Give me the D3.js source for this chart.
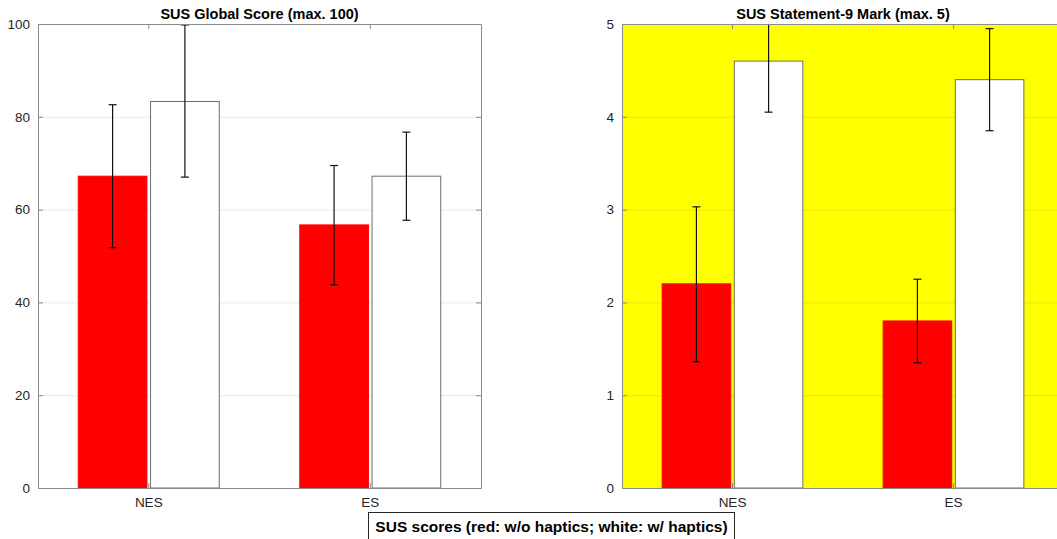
<!DOCTYPE html>
<html>
<head>
<meta charset="utf-8">
<script src="https://cdn.jsdelivr.net/npm/d3@7"></script>
<style>
  body { margin: 0; background: #fff; }
  svg { font-family: "Liberation Sans", Arial, sans-serif; display: block; }
</style>
</head>
<body>
<div id="grafico"></div>
<script>
// categorias y series
const categorias = ["NES", "ES"];
const series = ["sin", "con"]; // red: w/o haptics, white: w/ haptics

// SUS Global Score
const globalSin = [67.2, 56.7];
const globalSinLo = [51.8, 43.8];
const globalSinHi = [82.6, 69.5];
const globalCon = [83.3, 67.2];
const globalConLo = [67.0, 57.7];
const globalConHi = [99.8, 76.7];
const globalTicks = [0, 20, 40, 60, 80, 100];

// SUS Statement-9 Mark
const s9Sin = [2.2, 1.8];
const s9SinLo = [1.36, 1.35];
const s9SinHi = [3.03, 2.25];
const s9Con = [4.6, 4.4];
const s9ConLo = [4.05, 3.85];
const s9ConHi = [5.15, 4.95];
const s9Ticks = [0, 1, 2, 3, 4, 5];

const width = 1057;
const height = 539;

const svg = d3
  .select("#grafico")
  .append("svg")
  .attr("width", width)
  .attr("height", height);

const color = d3.scaleOrdinal().domain(series).range(["#ff0000", "#ffffff"]);
const stroke = d3.scaleOrdinal().domain(series).range(["#ff0000", "#6e6e6e"]);

function panel(id, x0px, x1px, titulo, ymax, ticks, sin, sinLo, sinHi, con, conLo, conHi, fondo) {
  const top = 24, bottom = 488;

  const data = categorias.map((c, i) => ({
    cat: c,
    vals: [
      { s: "sin", v: sin[i], lo: sinLo[i], hi: sinHi[i] },
      { s: "con", v: con[i], lo: conLo[i], hi: conHi[i] },
    ],
  }));

  const x0 = d3.scaleBand().domain(categorias).range([x0px, x1px]).padding(0);
  const bw = x0.bandwidth();
  const x1 = d3
    .scaleBand()
    .domain(series)
    .range([bw * 0.1817, bw * 0.8183])
    .paddingInner(0.05);
  const y = d3.scaleLinear().domain([0, ymax]).range([bottom, top]);

  const g = svg.append("g");

  g.append("clipPath")
    .attr("id", id)
    .append("rect")
    .attr("x", x0px)
    .attr("y", top)
    .attr("width", x1px - x0px)
    .attr("height", bottom - top);

  // fondo
  g.append("rect")
    .attr("x", x0px)
    .attr("y", top)
    .attr("width", x1px - x0px)
    .attr("height", bottom - top)
    .attr("fill", fondo);

  // grid
  g.append("g")
    .selectAll("line")
    .data(ticks)
    .join("line")
    .attr("x1", x0px)
    .attr("x2", x1px)
    .attr("y1", (d) => y(d) + 0.5)
    .attr("y2", (d) => y(d) + 0.5)
    .attr("stroke", "#262626")
    .attr("stroke-opacity", 0.1);

  // barras
  const grupos = g
    .append("g")
    .attr("clip-path", `url(#${id})`)
    .selectAll("g")
    .data(data)
    .join("g")
    .attr("transform", (d) => `translate(${x0(d.cat)},0)`);

  grupos
    .selectAll("rect")
    .data((d) => d.vals)
    .join("rect")
    .attr("x", (d) => x1(d.s))
    .attr("y", (d) => y(d.v))
    .attr("width", x1.bandwidth())
    .attr("height", (d) => y(0) - y(d.v))
    .attr("fill", (d) => color(d.s))
    .attr("stroke", (d) => stroke(d.s))
    .attr("stroke-width", 1);

  // barras de error
  const err = grupos
    .selectAll("g.err")
    .data((d) => d.vals)
    .join("g")
    .attr("class", "err")
    .attr("transform", (d) => `translate(${x1(d.s) + x1.bandwidth() / 2},0)`);
  err.append("line")
    .attr("y1", (d) => y(d.lo))
    .attr("y2", (d) => y(d.hi))
    .attr("stroke", "#111")
    .attr("stroke-width", 1.2);
  err.selectAll("line.cap")
    .data((d) => [d.lo, d.hi])
    .join("line")
    .attr("class", "cap")
    .attr("x1", -4)
    .attr("x2", 4)
    .attr("y1", (d) => y(d))
    .attr("y2", (d) => y(d))
    .attr("stroke", "#111")
    .attr("stroke-width", 1.2);

  // ejes
  const ejeY = g
    .append("g")
    .attr("transform", `translate(${x0px},0)`)
    .call(d3.axisLeft(y).tickValues(ticks).tickFormat(d3.format("d")).tickSizeInner(-5).tickSizeOuter(0).tickPadding(8));
  const ejeY2 = g
    .append("g")
    .attr("transform", `translate(${x1px},0)`)
    .call(d3.axisRight(y).tickValues(ticks).tickSizeInner(-5).tickSizeOuter(0))
    .call((s) => s.selectAll("text").remove());
  const ejeX = g
    .append("g")
    .attr("transform", `translate(0,${bottom})`)
    .call(d3.axisBottom(x0).tickSizeInner(-5).tickSizeOuter(0).tickPadding(9));
  const ejeX2 = g
    .append("g")
    .attr("transform", `translate(0,${top})`)
    .call(d3.axisTop(x0).tickSizeInner(-5).tickSizeOuter(0))
    .call((s) => s.selectAll("text").remove());

  [ejeY, ejeY2, ejeX, ejeX2].forEach((a) => {
    a.selectAll("path").attr("stroke", "#8a8a8a");
    a.selectAll("line").attr("stroke", "#8a8a8a");
    a.selectAll("text").attr("fill", "#262626").style("font-size", "13.5px");
  });

  // titulo
  g.append("text")
    .attr("x", (x0px + x1px) / 2)
    .attr("y", 19)
    .attr("text-anchor", "middle")
    .style("font-size", "14.5px")
    .style("font-weight", "bold")
    .attr("fill", "#000")
    .text(titulo);
}

panel("clipA", 38, 481, "SUS Global Score (max. 100)", 100, globalTicks,
  globalSin, globalSinLo, globalSinHi, globalCon, globalConLo, globalConHi, "#ffffff");
panel("clipB", 622, 1064, "SUS Statement-9 Mark (max. 5)", 5, s9Ticks,
  s9Sin, s9SinLo, s9SinHi, s9Con, s9ConLo, s9ConHi, "#ffff00");

// leyenda inferior
const leyenda = svg.append("g");
leyenda.append("rect")
  .attr("x", 368.5)
  .attr("y", 512.5)
  .attr("width", 366)
  .attr("height", 30)
  .attr("fill", "#fff")
  .attr("stroke", "#262626");
leyenda.append("text")
  .attr("x", 551.5)
  .attr("y", 532)
  .attr("text-anchor", "middle")
  .style("font-size", "15.5px")
  .style("font-weight", "bold")
  .text("SUS scores (red: w/o haptics; white: w/ haptics)");
</script>
</body>
</html>
